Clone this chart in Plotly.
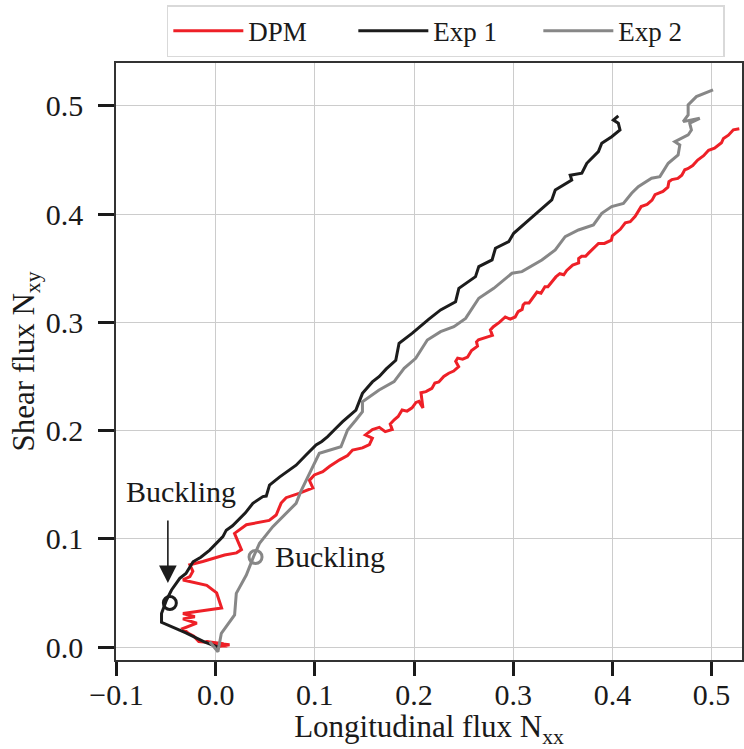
import plotly.graph_objects as go

# DPM prediction (longitudinal flux, shear flux)
dpm_x = [0.000, 0.014, -0.005, 0.012, -0.010, 0.008, -0.017, -0.022, -0.028, -0.033,
         -0.019, -0.033, -0.021, -0.033, -0.010, 0.006, 0.001, -0.009, -0.033, -0.026,
         -0.023, -0.026, -0.013, 0.009, 0.021, 0.026, 0.019, 0.031, 0.054, 0.061,
         0.066, 0.071, 0.084, 0.098, 0.0945, 0.0995, 0.108, 0.115, 0.125, 0.133,
         0.138, 0.148, 0.155, 0.158, 0.151, 0.158, 0.165, 0.171, 0.178, 0.176,
         0.180, 0.184, 0.188, 0.193, 0.198, 0.202, 0.205, 0.209, 0.207, 0.212,
         0.218, 0.221, 0.225, 0.230, 0.235, 0.240, 0.245, 0.242, 0.244, 0.249,
         0.254, 0.258, 0.264, 0.263, 0.265, 0.272, 0.279, 0.277, 0.280, 0.286,
         0.292, 0.297, 0.302, 0.305, 0.309, 0.310, 0.312, 0.316, 0.319, 0.324,
         0.328, 0.332, 0.335, 0.339, 0.343, 0.347, 0.351, 0.354, 0.360, 0.366,
         0.366, 0.369, 0.373, 0.376, 0.381, 0.386, 0.392, 0.399, 0.400, 0.403,
         0.408, 0.413, 0.418, 0.423, 0.426, 0.429, 0.435, 0.440, 0.443, 0.446,
         0.451, 0.456, 0.457, 0.460, 0.466, 0.470, 0.473, 0.476, 0.481, 0.486,
         0.492, 0.497, 0.503, 0.510, 0.512, 0.517, 0.522, 0.528]
dpm_y = [0.000, 0.002, 0.004, 0.001, 0.005, 0.003, 0.005, 0.010, 0.013, 0.017,
         0.022, 0.026, 0.028, 0.031, 0.034, 0.036, 0.050, 0.057, 0.062, 0.065,
         0.070, 0.076, 0.079, 0.085, 0.087, 0.090, 0.105, 0.113, 0.117, 0.122,
         0.133, 0.138, 0.142, 0.147, 0.154, 0.159, 0.162, 0.167, 0.173, 0.177,
         0.182, 0.184, 0.187, 0.193, 0.196, 0.201, 0.203, 0.199, 0.201, 0.206,
         0.210, 0.213, 0.219, 0.218, 0.221, 0.226, 0.227, 0.221, 0.235, 0.236,
         0.239, 0.244, 0.245, 0.250, 0.253, 0.255, 0.259, 0.264, 0.267, 0.266,
         0.268, 0.274, 0.278, 0.282, 0.284, 0.286, 0.288, 0.293, 0.296, 0.300,
         0.305, 0.303, 0.305, 0.310, 0.312, 0.316, 0.318, 0.318, 0.322, 0.328,
         0.327, 0.333, 0.333, 0.338, 0.342, 0.345, 0.344, 0.348, 0.353, 0.355,
         0.359, 0.361, 0.361, 0.364, 0.369, 0.373, 0.373, 0.376, 0.380, 0.382,
         0.386, 0.392, 0.393, 0.398, 0.403, 0.407, 0.409, 0.413, 0.418, 0.419,
         0.421, 0.425, 0.430, 0.432, 0.433, 0.436, 0.441, 0.442, 0.445, 0.450,
         0.454, 0.459, 0.461, 0.466, 0.470, 0.473, 0.478, 0.479]

# Experiment 1
exp1_x = [0.002, -0.012, -0.030, -0.0546, -0.0546, -0.0496, -0.0445, -0.0420, -0.0362, -0.0300,
          -0.0278, -0.0228, -0.0150, -0.0060, 0.0073, 0.0107, 0.0170, 0.0241, 0.0300, 0.0375,
          0.0476, 0.0510, 0.0543, 0.0643, 0.0720, 0.0811, 0.0911, 0.1012, 0.1070, 0.1129,
          0.1200, 0.1280, 0.1414, 0.1480, 0.1580, 0.1650, 0.1720, 0.1816, 0.1849, 0.1983,
          0.2150, 0.2268, 0.2419, 0.2452, 0.2620, 0.2653, 0.2787, 0.2821, 0.2955, 0.3005,
          0.3156, 0.3289, 0.3389, 0.3424, 0.3590, 0.3575, 0.3692, 0.3742, 0.3859, 0.3893,
          0.3993, 0.4077, 0.4060, 0.4010, 0.4060]
exp1_y = [0.000, 0.005, 0.013, 0.0228, 0.0310, 0.0434, 0.0527, 0.0560, 0.0635, 0.0680,
          0.0712, 0.0788, 0.0830, 0.0896, 0.1020, 0.1080, 0.1120, 0.1190, 0.1240, 0.1328,
          0.1390, 0.1395, 0.1497, 0.1570, 0.1620, 0.1680, 0.1774, 0.1867, 0.1900, 0.1944,
          0.2010, 0.2082, 0.2190, 0.2344, 0.2450, 0.2500, 0.2570, 0.2650, 0.2807, 0.2900,
          0.3030, 0.3115, 0.3191, 0.3315, 0.3423, 0.3515, 0.3577, 0.3685, 0.3746, 0.3823,
          0.3946, 0.4054, 0.4131, 0.4224, 0.4316, 0.4360, 0.4378, 0.4470, 0.4578, 0.4655,
          0.4716, 0.4778, 0.4840, 0.4870, 0.4908]

# Experiment 2
exp2_x = [-0.006, 0.0023, 0.0057, 0.0191, 0.0208, 0.0309, 0.0382, 0.0442, 0.0576, 0.0711,
          0.0811, 0.0860, 0.0945, 0.1045, 0.1263, 0.1330, 0.1414, 0.1480, 0.1480, 0.1648,
          0.1799, 0.1900, 0.2017, 0.2134, 0.2268, 0.2402, 0.2520, 0.2653, 0.2804, 0.2988,
          0.3088, 0.3289, 0.3424, 0.3524, 0.3658, 0.3809, 0.3893, 0.3993, 0.4111, 0.4194,
          0.4261, 0.4395, 0.4479, 0.4563, 0.4663, 0.4680, 0.4630, 0.4764, 0.4797, 0.4780,
          0.4881, 0.4714, 0.4764, 0.4764, 0.4847, 0.5015]
exp2_y = [0.0049, -0.0043, 0.0127, 0.0296, 0.0496, 0.0665, 0.0835, 0.0958, 0.1112, 0.1236,
          0.1328, 0.1440, 0.1605, 0.1790, 0.1851, 0.2006, 0.2098, 0.2175, 0.2267, 0.2375,
          0.2452, 0.2576, 0.2668, 0.2837, 0.2914, 0.2960, 0.3037, 0.3223, 0.3315, 0.3454,
          0.3469, 0.3577, 0.3669, 0.3792, 0.3854, 0.3900, 0.4008, 0.4070, 0.4100, 0.4193,
          0.4254, 0.4332, 0.4347, 0.4470, 0.4547, 0.4640, 0.4670, 0.4732, 0.4778, 0.4840,
          0.4886, 0.4855, 0.4917, 0.5009, 0.5086, 0.5148]

# Buckling onset points
buck1 = (-0.0462, 0.0407)
buck2 = (0.0402, 0.0832)

x_ticks = [-0.1, 0.0, 0.1, 0.2, 0.3, 0.4, 0.5]
x_labels = ["\u22120.1", "0.0", "0.1", "0.2", "0.3", "0.4", "0.5"]
y_ticks = [0.0, 0.1, 0.2, 0.3, 0.4, 0.5]
y_labels = ["0.0", "0.1", "0.2", "0.3", "0.4", "0.5"]

RED, BLACK, GREY = "#EE2027", "#1C1C1C", "#878787"
TXT = "#1a1a1a"
FONT = "Liberation Serif"

fig = go.Figure()
fig.add_trace(go.Scatter(x=dpm_x, y=dpm_y, mode="lines", name="DPM",
                         line=dict(color=RED, width=3)))
fig.add_trace(go.Scatter(x=exp1_x, y=exp1_y, mode="lines", name="Exp 1",
                         line=dict(color=BLACK, width=3)))
fig.add_trace(go.Scatter(x=exp2_x, y=exp2_y, mode="lines", name="Exp 2",
                         line=dict(color=GREY, width=3)))

for (bx, by), col in ((buck1, BLACK), (buck2, GREY)):
    fig.add_trace(go.Scatter(x=[bx], y=[by], mode="markers", showlegend=False,
                             marker=dict(symbol="circle-open", size=13, color=col,
                                         line=dict(color=col, width=3))))

# Arrow pointing at the first buckling point
fig.add_annotation(x=-0.0482, y=0.0591, ax=0, ay=-64, text="", showarrow=True,
                   arrowhead=2, arrowsize=2.2, arrowwidth=1.6, arrowcolor=BLACK)
fig.add_annotation(x=-0.0352, y=0.1433, text="Buckling", showarrow=False,
                   font=dict(family=FONT, size=30, color=TXT))
fig.add_annotation(x=0.0573, y=0.0832, text="Buckling", showarrow=False,
                   xanchor="left", font=dict(family=FONT, size=30, color=TXT))

axis_common = dict(
    showgrid=True, gridcolor="#cccccc", gridwidth=1.2,
    showline=True, linecolor="#333333", linewidth=1.5, mirror=True,
    ticks="outside", tickwidth=3, tickcolor=TXT,
    tickfont=dict(family=FONT, size=30, color=TXT),
    zeroline=False,
)

fig.update_layout(
    width=744, height=749,
    margin=dict(l=116, r=0, t=63, b=89),
    plot_bgcolor="white", paper_bgcolor="white",
    font=dict(family=FONT, color=TXT),
    xaxis=dict(axis_common, range=[-0.1005, 0.5307], tickvals=x_ticks, ticktext=x_labels,
               ticklen=14, ticklabelstandoff=-7,
               title=dict(text="Longitudinal flux N<sub>xx</sub>",
                          font=dict(family=FONT, size=31), standoff=16)),
    yaxis=dict(axis_common, range=[-0.0120, 0.5397], tickvals=y_ticks, ticktext=y_labels,
               ticklen=16, ticklabelstandoff=9,
               title=dict(text="Shear flux N<sub>xy</sub>",
                          font=dict(family=FONT, size=31), standoff=2)),
    legend=dict(orientation="h", x=0.0812, xanchor="left", y=1.097, yanchor="top",
                bordercolor="#d9d9d9", borderwidth=1.5, bgcolor="white",
                font=dict(family=FONT, size=27), entrywidth=100, itemwidth=70),
)

fig.write_html("out.html")
